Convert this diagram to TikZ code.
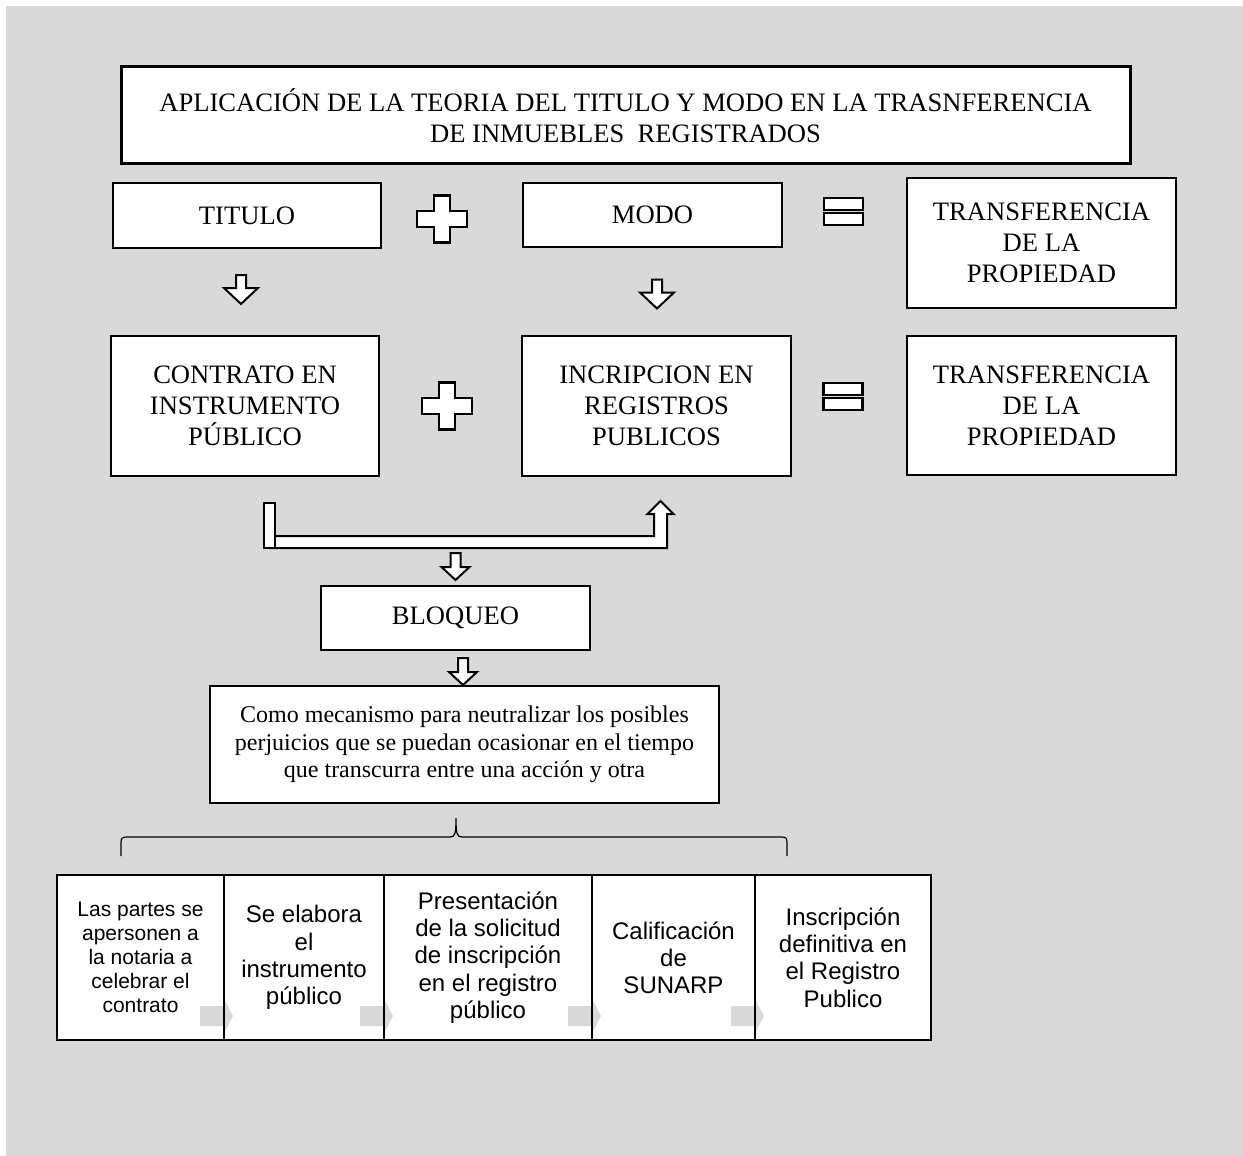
\documentclass[tikz,border=0pt]{standalone}
\usepackage{fontspec}
\setmainfont{Liberation Serif}
\setsansfont{Liberation Sans}
\usetikzlibrary{calc,positioning}
\definecolor{fondo}{HTML}{D9D9D9}

\begin{document}
\begin{tikzpicture}[x=0.5pt,y=-0.5pt,
caja/.style={draw,fill=white,line width=1.2pt,inner sep=0pt,align=center,
font=\fontsize{13.3}{15.5}\selectfont},
paso/.style={draw,fill=white,line width=1pt,inner sep=0pt,outer sep=0pt,
minimum height=82.5pt,align=center,font=\sffamily\fontsize{12}{13.6}\selectfont},
blk/.style={draw,fill=white,line width=1pt},
mas/.pic={\draw[fill=white,line width=1.3pt] (-8,-23.5) -- (8,-23.5) -- (8,-8)
 -- (25,-8) -- (25,8) -- (8,8) -- (8,23.5) -- (-8,23.5) -- (-8,8) -- (-25,8)
 -- (-25,-8) -- (-8,-8) -- cycle;},
igual/.pic={\draw[fill=white,line width=1.2pt] (-19.5,-14) rectangle (19.5,-2)
 (-19.5,1) rectangle (19.5,13);},
bajar/.pic={\draw[blk] (-5,-14.5) -- (5,-14.5) -- (5,-1.5) -- (17,-1.5) -- (0,14.5)
 -- (-17,-1.5) -- (-5,-1.5) -- cycle;},
bajarc/.pic={\draw[blk] (-5,-13.5) -- (5,-13.5) -- (5,0.5) -- (14,0.5) -- (0,13.5)
 -- (-14,0.5) -- (-5,0.5) -- cycle;},
gris/.pic={\fill[fondo] (-24,-10) -- (-1,-10) -- (-1,-19) -- (9,0) -- (-1,19)
 -- (-1,10) -- (-24,10) -- cycle;}]
\fill[fondo] (6,6) rectangle (1243,1156);
\useasboundingbox (0,0) rectangle (1243,1156);
% cabecera
\node[caja,line width=1.5pt,minimum width=504.5pt,minimum height=48.5pt] (tit) at (625.5,115.5)
{APLICACIÓN DE LA TEORIA DEL TITULO Y MODO EN LA TRASNFERENCIA\\DE INMUEBLES\ \ REGISTRADOS};
\node[caja,minimum width=134pt,minimum height=32.5pt] (titulo) at (247,215.5) {TITULO};
\node[caja,minimum width=129.5pt,minimum height=32pt] (modo) at (652.5,215) {MODO};
\node[caja,minimum width=134.5pt,minimum height=65pt] (prop1) at (1041.5,243)
{TRANSFERENCIA\\DE LA\\PROPIEDAD};
\node[caja,minimum width=134pt,minimum height=70pt] (contrato) at (245,406)
{CONTRATO EN\\INSTRUMENTO\\PÚBLICO};
\node[caja,minimum width=134.5pt,minimum height=70pt] (inscr) at (656.5,406)
{INCRIPCION EN\\REGISTROS\\PUBLICOS};
\node[caja,minimum width=134.5pt,minimum height=69.5pt] (prop2) at (1041.5,405.5)
{TRANSFERENCIA\\DE LA\\PROPIEDAD};
\pic at (442,219) {mas};
\pic at (447,406) {mas};
\pic at (843.5,212) {igual};
\pic at (843,397) {igual};
\pic at (241,289.5) {bajar};
\pic at (657,294) {bajar};
% union titulo-modo
\draw[blk] (270,536) -- (654,536) -- (654,514) -- (647.5,514) -- (660.5,501) -- (673.5,514)
 -- (667,514) -- (667,548) -- (270,548) -- cycle;
\draw[blk] (264,503) rectangle (275,548);
\pic at (455.5,566.5) {bajarc};
\node[caja,minimum width=134.5pt,minimum height=32pt] (bloqueo) at (455.5,618) {BLOQUEO};
\pic at (463,671.5) {bajarc};
\node[caja,font=\fontsize{12}{13.8}\selectfont,minimum width=254.5pt,minimum height=58.5pt]
(meca) at (464.5,744.5) {Como mecanismo para neutralizar los posibles\\perjuicios que se puedan
ocasionar en el tiempo\\que transcurra entre una acción y otra};
% llave
\draw[line width=0.6pt] (121,856) -- (121,843) .. controls (121,838) and (122,837) .. (127,837)
 -- (450,837) .. controls (455,837) and (456,834) .. (456,818)
 .. controls (456,834) and (457,837) .. (462,837) -- (781,837)
 .. controls (786,837) and (787,838) .. (787,843) -- (787,856);
% pasos
\node[paso,font=\sffamily\fontsize{10.5}{12}\selectfont,minimum width=83.5pt] (p1) at (140.5,957.5)
{Las partes se\\apersonen a\\la notaria a\\celebrar el\\contrato};
\node[paso,minimum width=80pt,right=0pt of p1] (p2) {Se elabora\\el\\instrumento\\público};
\node[paso,minimum width=104pt,right=0pt of p2] (p3)
{Presentación\\de la solicitud\\de inscripción\\en el registro\\público};
\node[paso,minimum width=81.5pt,right=0pt of p3] (p4) {Calificación\\de\\SUNARP};
\node[paso,minimum width=88pt,right=0pt of p4] (p5) {Inscripción\\definitiva en\\el Registro\\Publico};
\foreach \n in {p1,p2,p3,p4}
  \pic at ($(\n.east)+(0,58.5)$) {gris};
\foreach \n in {p1,p2,p3,p4}
  \draw[line width=1pt] (\n.north east) -- (\n.south east);
\end{tikzpicture}
\end{document}
